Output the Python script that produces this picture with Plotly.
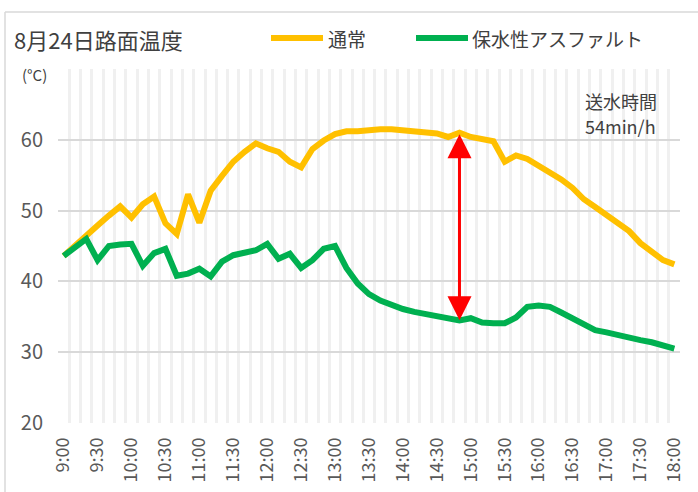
import plotly.graph_objects as go

times = ["9:00", "9:10", "9:20", "9:30", "9:40", "9:50",
         "10:00", "10:10", "10:20", "10:30", "10:40", "10:50",
         "11:00", "11:10", "11:20", "11:30", "11:40", "11:50",
         "12:00", "12:10", "12:20", "12:30", "12:40", "12:50",
         "13:00", "13:10", "13:20", "13:30", "13:40", "13:50",
         "14:00", "14:10", "14:20", "14:30", "14:40", "14:50",
         "15:00", "15:10", "15:20", "15:30", "15:40", "15:50",
         "16:00", "16:10", "16:20", "16:30", "16:40", "16:50",
         "17:00", "17:10", "17:20", "17:30", "17:40", "17:50",
         "18:00"]

normal = [43.6, 45.1, 46.4, 47.9, 49.3, 50.6,
          49.0, 50.9, 52.0, 48.2, 46.7, 52.3,
          48.3, 52.8, 54.9, 56.9, 58.3, 59.5,
          58.8, 58.3, 56.9, 56.1, 58.7, 59.9,
          60.8, 61.2, 61.2, 61.4, 61.5, 61.5,
          61.4, 61.3, 61.2, 60.9, 60.4, 61.0,
          60.4, 60.0, 59.8, 56.9, 57.8, 57.3,
          56.4, 55.5, 54.4, 53.2, 51.6, 50.5,
          49.3, 48.3, 47.1, 45.4, 44.1, 43.0,
          42.4]

porous = [43.6, 44.8, 46.0, 43.0, 45.0, 45.2,
          45.3, 42.2, 44.0, 44.6, 40.8, 41.1,
          41.8, 40.7, 42.8, 43.7, 44.1, 44.4,
          45.3, 43.2, 43.9, 41.9, 43.0, 44.6,
          45.0, 41.9, 39.7, 38.2, 37.3, 36.6,
          36.1, 35.7, 35.4, 35.1, 34.8, 34.5,
          34.8, 34.2, 34.1, 34.1, 34.9, 36.4,
          36.6, 36.4, 35.6, 34.7, 33.9, 33.1,
          32.8, 32.4, 31.9, 31.7, 31.4, 31.0,
          30.5]

label_times = ["9:00", "9:30", "10:00", "10:30", "11:00", "11:30", "12:00",
               "12:30", "13:00", "13:30", "14:00", "14:30", "15:00", "15:30",
               "16:00", "16:30", "17:00", "17:30", "18:00"]
y_ticks = [20, 30, 40, 50, 60, 70]
y_labels = ["20", "30", "40", "50", "60", ""]
series_names = ["通常", "保水性アスファルト"]
title_text = "8月24日路面温度"
note_lines = ["送水時間", "54min/h"]
arrow_time = "14:50"

YELLOW = "#FFC000"
GREEN = "#00B050"
FONT = "Noto Sans CJK JP"

W, H = 698, 492
ML, MR, MT, MB = 58, 18, 69, 69
PW, PH = W - ML - MR, H - MT - MB


def px(x):
    return (x - ML) / PW


def py(y):
    return (H - MB - y) / PH


fig = go.Figure()
fig.add_trace(go.Scatter(x=times, y=normal, mode="lines", name=series_names[0],
                         line=dict(color=YELLOW, width=6), showlegend=False))
fig.add_trace(go.Scatter(x=times, y=porous, mode="lines", name=series_names[1],
                         line=dict(color=GREEN, width=6), showlegend=False))

ai = times.index(arrow_time)
fig.add_annotation(x=arrow_time, y=porous[ai], ax=arrow_time, ay=normal[ai],
                   xref="x", yref="y", axref="x", ayref="y", text="",
                   showarrow=True, arrowhead=2, startarrowhead=2,
                   arrowside="end+start", arrowsize=1.6, startarrowsize=1.6,
                   arrowwidth=3, arrowcolor="#FF0000", standoff=0, startstandoff=0)

ticktext = [t if t in label_times else "" for t in times]

fig.update_xaxes(type="category", categoryorder="array", categoryarray=times,
                 tickmode="array", tickvals=times, ticktext=ticktext,
                 tickson="boundaries", showgrid=True, gridcolor="#F0F0F0", gridwidth=2.5,
                 tickangle=-90, ticks="", ticklabelstandoff=10,
                 tickfont=dict(family=FONT, size=18, color="#595959"),
                 showline=False, zeroline=False, range=[-0.5, len(times) - 0.5])
fig.update_yaxes(range=[20, 70], tickmode="array", tickvals=y_ticks, ticktext=y_labels,
                 showgrid=True, gridcolor="#D9D9D9", gridwidth=2,
                 tickfont=dict(family=FONT, size=20, color="#595959"),
                 ticks="", ticklabelstandoff=14, zeroline=False, showline=False)

shapes = [
    dict(type="line", xref="paper", yref="paper", x0=px(5), x1=px(5), y0=py(492), y1=py(12),
         line=dict(color="#D9D9D9", width=1.5), layer="below"),
    dict(type="line", xref="paper", yref="paper", x0=px(5), x1=px(698), y0=py(12), y1=py(12),
         line=dict(color="#D9D9D9", width=1.5), layer="below"),
    dict(type="line", xref="paper", yref="paper", x0=px(271), x1=px(323), y0=py(38), y1=py(38),
         line=dict(color=YELLOW, width=6)),
    dict(type="line", xref="paper", yref="paper", x0=px(416), x1=px(468), y0=py(38), y1=py(38),
         line=dict(color=GREEN, width=6)),
]
fig.update_layout(shapes=shapes)

fig.add_annotation(xref="paper", yref="paper", x=px(12), y=py(39), xanchor="left", yanchor="middle",
                   text=title_text, showarrow=False,
                   font=dict(family=FONT, size=22, color="#404040"))
fig.add_annotation(xref="paper", yref="paper", x=px(326), y=py(38), xanchor="left", yanchor="middle",
                   text=series_names[0], showarrow=False,
                   font=dict(family=FONT, size=19, color="#404040"))
fig.add_annotation(xref="paper", yref="paper", x=px(470), y=py(38), xanchor="left", yanchor="middle",
                   text=series_names[1], showarrow=False,
                   font=dict(family=FONT, size=19, color="#404040"))
fig.add_annotation(xref="paper", yref="paper", x=px(34), y=py(75), xanchor="center", yanchor="middle",
                   text="(°C)", showarrow=False,
                   font=dict(family=FONT, size=15, color="#404040"))
fig.add_annotation(xref="paper", yref="paper", x=px(583), y=py(101), xanchor="left", yanchor="middle",
                   text=note_lines[0], showarrow=False,
                   font=dict(family=FONT, size=18, color="#404040"))
fig.add_annotation(xref="paper", yref="paper", x=px(583), y=py(126), xanchor="left", yanchor="middle",
                   text=note_lines[1], showarrow=False,
                   font=dict(family=FONT, size=18, color="#404040"))

fig.update_layout(width=W, height=H, margin=dict(l=ML, r=MR, t=MT, b=MB, autoexpand=False),
                  paper_bgcolor="white", plot_bgcolor="white")

fig.write_html("out.html", config={"displayModeBar": False},
               post_script="document.body.style.margin='0';document.body.style.overflow='hidden';")
